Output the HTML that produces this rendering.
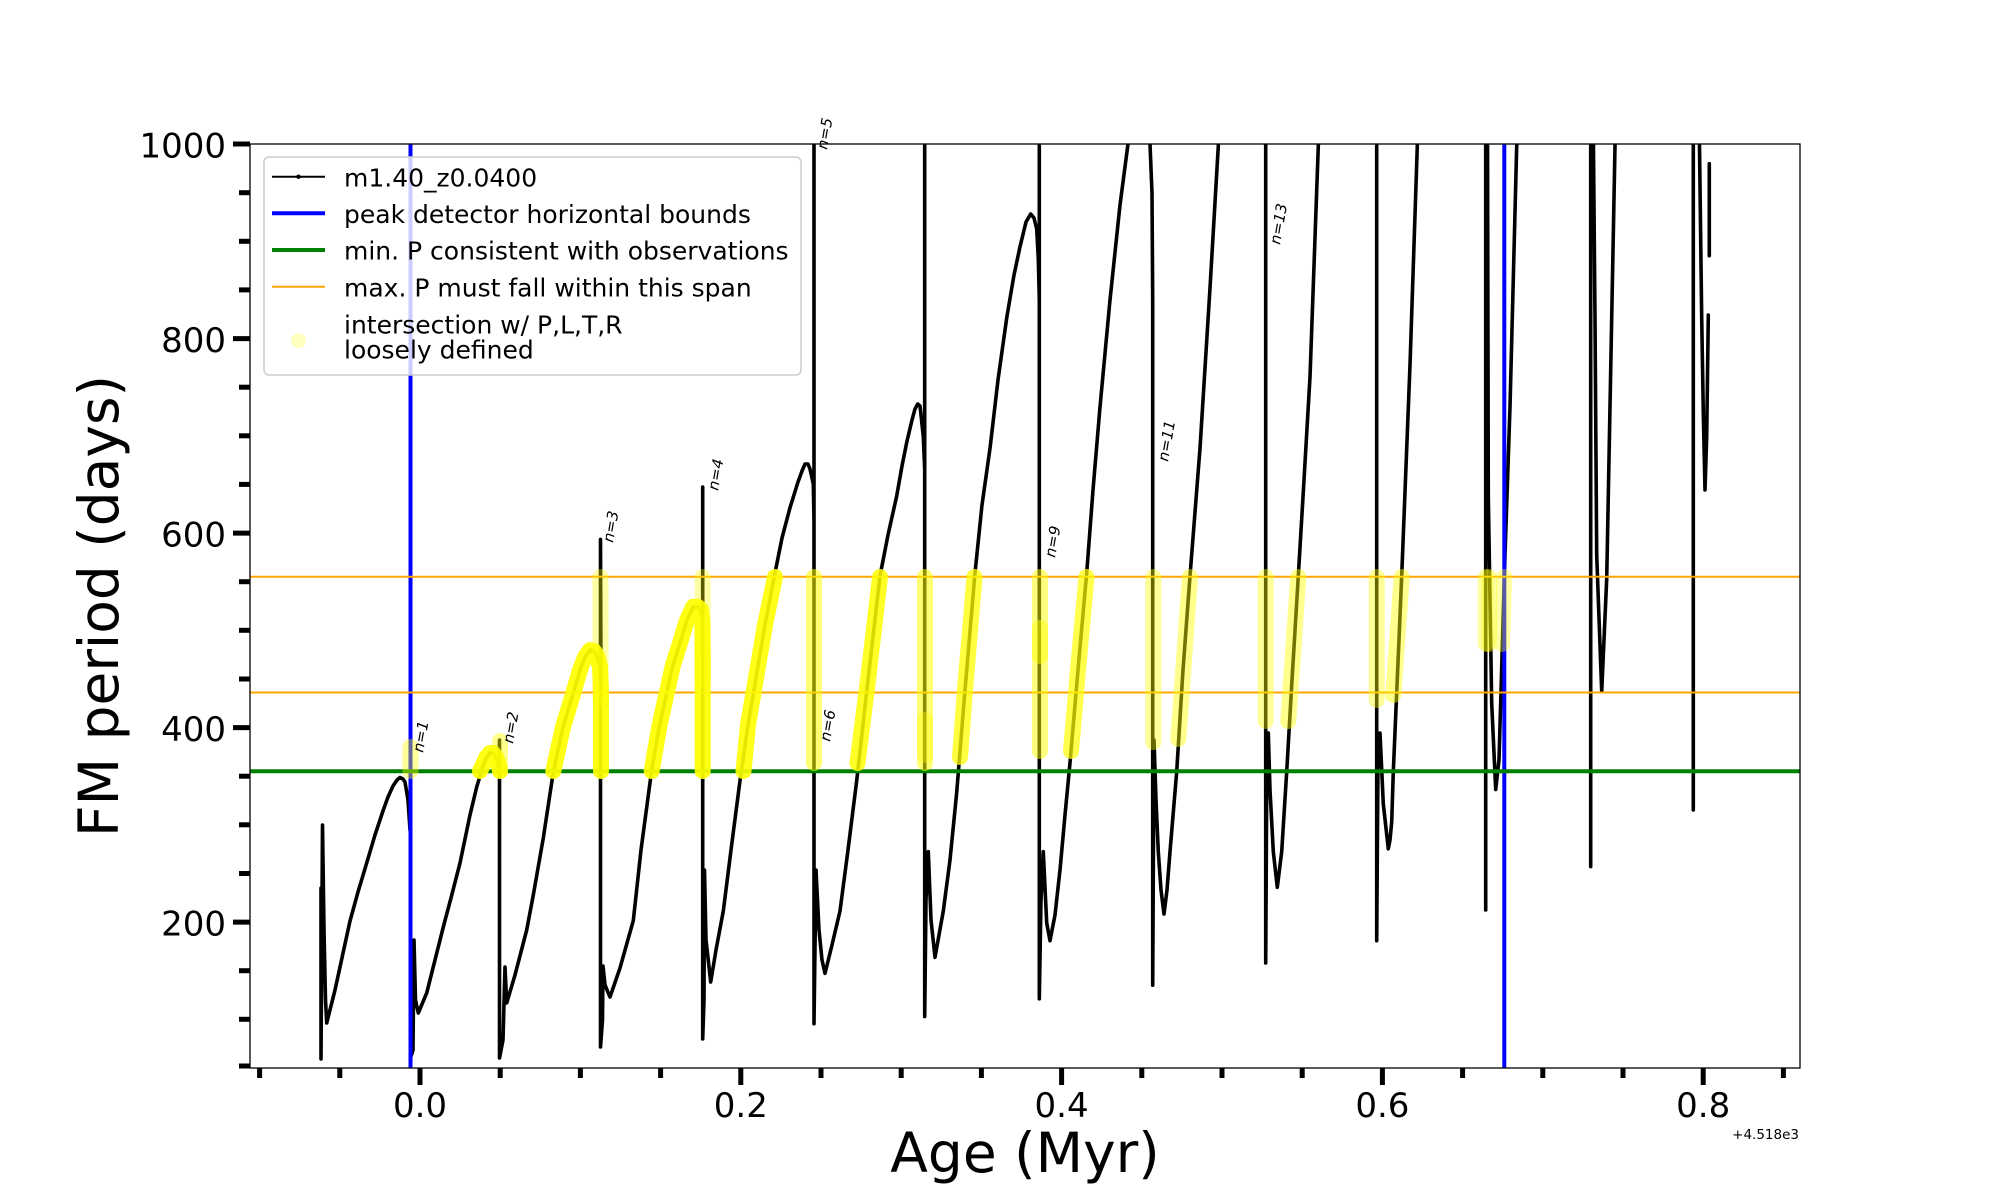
<!DOCTYPE html>
<html>
<head>
<meta charset="utf-8">
<style>
  html, body { margin: 0; padding: 0; background: #ffffff; }
  svg { display: block; }
  text { font-family: "DejaVu Sans", "Liberation Sans", sans-serif; fill: #000; }
</style>
</head>
<body>
<svg width="2000" height="1200" viewBox="0 0 2000 1200" xmlns="http://www.w3.org/2000/svg">
  <defs>
    <clipPath id="ax">
      <rect x="250" y="144" width="1550" height="924"/>
    </clipPath>
  </defs>
  <rect x="0" y="0" width="2000" height="1200" fill="#ffffff"/>

  <g clip-path="url(#ax)">
    <!-- black model curve -->
    <path fill="none" stroke="#000" stroke-width="3.6" stroke-linejoin="round" stroke-linecap="round" d="
M321,888 L321,1059 L322.5,825 L324,930 L325.5,1000 L326.7,1023
L335,990 L350,921 L358,892 L366.7,863 L375,835 L383.3,810 L388,797 L393,786 L397,780 L400,777.5 L403,779 L405,782 L408,800 L410,830 L410.5,746 L410.5,1058 L413,1050 L414,940 L415.5,1000 L418.3,1013
L426.7,993 L435,960 L443.3,927 L451,898 L460,863 L470,815 L476.7,787 L480,776 L483,766 L486,758 L490,753 L493,753 L496,757 L499,768 L499.5,740 L499.5,1058 L503,1040 L505,967 L506.7,1003
L515,975 L526.7,930 L533.3,895 L543.3,838 L553.3,772 L563,727 L573.3,693 L580,670 L585,657 L590,650 L594,651 L597,656 L600,667 L601,690 L600.5,539.4 L600.5,1047 L602.5,1020 L603,966 L605,985 L610,997
L620,968 L633.3,920.6 L641,850 L651.7,770 L659,728 L666.7,693 L673,665 L680,643 L687,620 L693.3,606.7 L698,607 L701,610 L702.3,620 L702.7,660 L702.7,487 L702.7,1039 L704,1000 L704.5,870 L706,940 L710.7,982
L716,950 L723.3,911 L731,850 L740,780.6 L748,725 L756.7,673.8 L765,625 L775,573 L782,538 L790,507.7 L798,482 L802,471 L805,464 L808,464 L810,469 L813.3,484 L814,520 L814,140 L814,1023.7 L816,870 L819,930 L822,960 L825,973.3
L832,945 L840,911 L848,850 L856.7,780.6 L868,680 L880,576 L888,535 L896.7,496 L902,466 L906.7,442.5 L912,420 L915,409 L917.7,404 L920,406 L921,415 L923.3,436.6 L924.7,470 L924.7,140 L924.7,1016.6 L926,900 L928.3,851.7 L931,920 L935,957.3
L943.3,911 L950,860 L956.7,792.4 L965,690 L975,573 L982,505 L990,448.4 L998,380 L1006.7,318 L1014,275 L1020,246.8 L1026,222 L1030.7,214 L1034,218 L1036.7,229 L1038.3,258.6 L1039.3,300 L1039.3,140 L1039.3,998.8 L1041,900 L1043.3,851.7 L1046.7,923 L1050,940.7
L1055,915 L1060,870 L1065,815 L1070,762.8 L1078,670 L1086.7,573 L1093,490 L1100,407 L1110,300 L1120,205 L1128,144 L1134,100 L1145,100 L1150,144 L1152,193 L1152.7,300 L1152.7,985.2 L1154,740 L1156,800 L1158.3,851.7 L1161,890 L1164,914 L1167,890 L1170,851.7 L1176.7,771.7 L1183,670 L1190,576 L1200,448.4 L1210,288 L1218.3,146 L1222,90
M1262,90 L1265.7,144 L1265.7,963 L1267,740 L1268.3,733 L1270,790 L1273.3,851.7 L1277.3,887.3 L1281.7,851.7 L1286.7,771.7 L1292,680 L1298.3,576 L1304,480 L1310,377 L1318.3,146 L1322,90
M1373,90 L1376.7,144 L1376.7,940.7 L1378,760 L1380,733 L1383.3,804 L1388.3,848.8 L1390,840 L1391.7,822 L1393.3,771.7 L1401.7,576 L1410,365 L1417.3,146 L1420,90
M1485.7,130 L1485.7,910 M1487.5,130 L1488.3,496 L1491.7,703.5 L1495.7,789.5 L1499,760 L1505,555 L1510,407 L1516.7,146 L1519,120
M1590.7,130 L1590.7,866.6 M1593.3,130 L1595,318 L1596.7,555 L1601.7,691.6 L1606.7,579 L1611.7,318 L1615,146 L1617,120
M1693.3,130 L1693.3,810 M1699.3,130 L1701.7,318 L1703.3,412.8 L1705,490 L1706.7,436.6 L1708.3,315 M1709.3,163.7 L1709.3,255.7"/>

    <!-- blue vertical bounds -->
    <line x1="410.5" y1="144" x2="410.5" y2="1068" stroke="#0000ff" stroke-width="4"/>
    <line x1="1504.3" y1="144" x2="1504.3" y2="1068" stroke="#0000ff" stroke-width="4"/>

    <!-- green min P -->
    <line x1="250" y1="771.3" x2="1800" y2="771.3" stroke="#008000" stroke-width="4"/>
    <!-- orange span -->
    <line x1="250" y1="576.8" x2="1800" y2="576.8" stroke="#ffa500" stroke-width="2"/>
    <line x1="250" y1="692.5" x2="1800" y2="692.5" stroke="#ffa500" stroke-width="2"/>

    <!-- yellow intersections -->
    <g fill="none" stroke="#ffff00" stroke-linecap="round" stroke-linejoin="round" stroke-width="16">
      <!-- dense arcs -->
      <path opacity="0.92" d="M480,771 L483,765 L486,758 L490,753 L493,753 L496,757 L499,766 L500,771"/>
      <path opacity="0.92" d="M553.3,771 L563,727 L573.3,693 L580,670 L585,657 L590,650 L594,651 L597,656 L600,667 L601,690 L601,771"/>
      <path opacity="0.92" d="M651.7,771 L659,728 L666.7,693 L673,665 L680,643 L687,620 L693.3,606.7 L698,607 L701,610 L702.3,620 L702.7,660 L702.7,771"/>
      <path opacity="0.9" d="M743.5,771 L748,725 L756.7,673.8 L765,625 L775,577"/>
      <path opacity="0.85" d="M857.5,763 L868,680 L880,577"/>
      <path opacity="0.75" d="M960,757 L965,690 L974.5,577"/>
      <path opacity="0.7" d="M1071,751 L1078,670 L1086.5,577"/>
      <!-- verticals, medium -->
      <path opacity="0.55" d="M814,577 L814,763"/>
      <path opacity="0.55" d="M925,577 L925,763"/>
      <path opacity="0.5" d="M1040,577 L1040,751"/>
      <path opacity="0.35" d="M600.5,577 L600.5,700"/>
      <path opacity="0.35" d="M702.7,577 L702.7,680"/>
      <path opacity="0.4" d="M410.5,747 L410.5,771"/>
      <path opacity="0.45" d="M500,741 L500,771"/>
      <!-- later cycles, sparse -->
      <path opacity="0.4" d="M1153.3,577 L1153.3,742"/>
      <path opacity="0.45" d="M1178.3,739 L1190,577"/>
      <path opacity="0.4" d="M1265.7,577 L1265.7,721"/>
      <path opacity="0.45" d="M1288.3,721 L1298.3,577"/>
      <path opacity="0.4" d="M1376.7,577 L1376.7,700"/>
      <path opacity="0.45" d="M1393.3,695 L1401.7,577"/>
      <path opacity="0.35" d="M1485.7,577 L1485.7,644"/>
      <path opacity="0.35" d="M1489,577 L1489,644"/>
      <path opacity="0.35" d="M1502,644 L1504.3,577"/>
    </g>
    <!-- denser blobs -->
    <g fill="#ffff00">
      <rect x="1032" y="620" width="16" height="44" rx="8" opacity="0.45"/>
      <rect x="917" y="712" width="16" height="51" rx="8" opacity="0.35"/>
    </g>
  </g>

  <!-- n labels -->
  <g font-size="15" font-style="italic">
    <text transform="translate(423,753) rotate(-80)">n=1</text>
    <text transform="translate(513,744) rotate(-80)">n=2</text>
    <text transform="translate(613,543) rotate(-80)">n=3</text>
    <text transform="translate(718,491) rotate(-80)">n=4</text>
    <text transform="translate(827,150) rotate(-80)">n=5</text>
    <text transform="translate(830,742) rotate(-80)">n=6</text>
    <text transform="translate(1055,558) rotate(-80)">n=9</text>
    <text transform="translate(1168,462) rotate(-80)">n=11</text>
    <text transform="translate(1280,245) rotate(-80)">n=13</text>
  </g>

  <!-- axes frame -->
  <rect x="250" y="144" width="1550" height="924" fill="none" stroke="#000" stroke-width="1.3"/>

  <!-- y ticks -->
  <g stroke="#000" stroke-width="5">
    <line x1="233" y1="144" x2="250" y2="144"/>
    <line x1="233" y1="338.6" x2="250" y2="338.6"/>
    <line x1="233" y1="533.1" x2="250" y2="533.1"/>
    <line x1="233" y1="727.6" x2="250" y2="727.6"/>
    <line x1="233" y1="922.1" x2="250" y2="922.1"/>
    <line x1="239" y1="192.7" x2="250" y2="192.7"/>
    <line x1="239" y1="241.3" x2="250" y2="241.3"/>
    <line x1="239" y1="289.9" x2="250" y2="289.9"/>
    <line x1="239" y1="387.2" x2="250" y2="387.2"/>
    <line x1="239" y1="435.8" x2="250" y2="435.8"/>
    <line x1="239" y1="484.4" x2="250" y2="484.4"/>
    <line x1="239" y1="581.7" x2="250" y2="581.7"/>
    <line x1="239" y1="630.3" x2="250" y2="630.3"/>
    <line x1="239" y1="679" x2="250" y2="679"/>
    <line x1="239" y1="776.2" x2="250" y2="776.2"/>
    <line x1="239" y1="824.8" x2="250" y2="824.8"/>
    <line x1="239" y1="873.5" x2="250" y2="873.5"/>
    <line x1="239" y1="970.7" x2="250" y2="970.7"/>
    <line x1="239" y1="1019.3" x2="250" y2="1019.3"/>
    <line x1="239" y1="1066" x2="250" y2="1066"/>
  </g>

  <!-- x ticks -->
  <g stroke="#000" stroke-width="5">
    <line x1="420" y1="1068" x2="420" y2="1085"/>
    <line x1="740.8" y1="1068" x2="740.8" y2="1085"/>
    <line x1="1061.6" y1="1068" x2="1061.6" y2="1085"/>
    <line x1="1382.4" y1="1068" x2="1382.4" y2="1085"/>
    <line x1="1703.2" y1="1068" x2="1703.2" y2="1085"/>
    <line x1="259.6" y1="1068" x2="259.6" y2="1078"/>
    <line x1="339.8" y1="1068" x2="339.8" y2="1078"/>
    <line x1="500.2" y1="1068" x2="500.2" y2="1078"/>
    <line x1="580.4" y1="1068" x2="580.4" y2="1078"/>
    <line x1="660.6" y1="1068" x2="660.6" y2="1078"/>
    <line x1="821" y1="1068" x2="821" y2="1078"/>
    <line x1="901.2" y1="1068" x2="901.2" y2="1078"/>
    <line x1="981.4" y1="1068" x2="981.4" y2="1078"/>
    <line x1="1141.8" y1="1068" x2="1141.8" y2="1078"/>
    <line x1="1222" y1="1068" x2="1222" y2="1078"/>
    <line x1="1302.2" y1="1068" x2="1302.2" y2="1078"/>
    <line x1="1462.6" y1="1068" x2="1462.6" y2="1078"/>
    <line x1="1542.8" y1="1068" x2="1542.8" y2="1078"/>
    <line x1="1623" y1="1068" x2="1623" y2="1078"/>
    <line x1="1783.4" y1="1068" x2="1783.4" y2="1078"/>
  </g>

  <!-- y tick labels -->
  <g font-size="34" text-anchor="end">
    <text x="226" y="157.5">1000</text>
    <text x="226" y="352">800</text>
    <text x="226" y="546.5">600</text>
    <text x="226" y="741">400</text>
    <text x="226" y="935.5">200</text>
  </g>

  <!-- x tick labels -->
  <g font-size="34" text-anchor="middle">
    <text x="420" y="1117">0.0</text>
    <text x="740.8" y="1117">0.2</text>
    <text x="1061.6" y="1117">0.4</text>
    <text x="1382.4" y="1117">0.6</text>
    <text x="1703.2" y="1117">0.8</text>
  </g>
  <text x="1799" y="1139" font-size="13.5" text-anchor="end">+4.518e3</text>

  <!-- axis labels -->
  <text x="1025" y="1172" font-size="55" text-anchor="middle">Age (Myr)</text>
  <text transform="translate(118,606) rotate(-90)" font-size="55" text-anchor="middle">FM period (days)</text>

  <!-- legend -->
  <rect x="264" y="157" width="537" height="218" rx="5" ry="5" fill="#ffffff" fill-opacity="0.8" stroke="#cccccc" stroke-width="1.5"/>
  <line x1="272" y1="176.7" x2="325" y2="176.7" stroke="#000" stroke-width="2"/>
  <circle cx="298.5" cy="176.7" r="2.2" fill="#000"/>
  <line x1="272" y1="213.3" x2="325" y2="213.3" stroke="#0000ff" stroke-width="4"/>
  <line x1="272" y1="250" x2="325" y2="250" stroke="#008000" stroke-width="4"/>
  <line x1="272" y1="286.7" x2="325" y2="286.7" stroke="#ffa500" stroke-width="2"/>
  <circle cx="298.5" cy="340.7" r="7.5" fill="#ffff00" fill-opacity="0.25"/>
  <g font-size="25">
    <text x="344" y="186.5">m1.40_z0.0400</text>
    <text x="344" y="223">peak detector horizontal bounds</text>
    <text x="344" y="259.7">min. P consistent with observations</text>
    <text x="344" y="296.4">max. P must fall within this span</text>
    <text x="344" y="333.3">intersection w/ P,L,T,R</text>
    <text x="344" y="358.3">loosely defined</text>
  </g>
</svg>
</body>
</html>
